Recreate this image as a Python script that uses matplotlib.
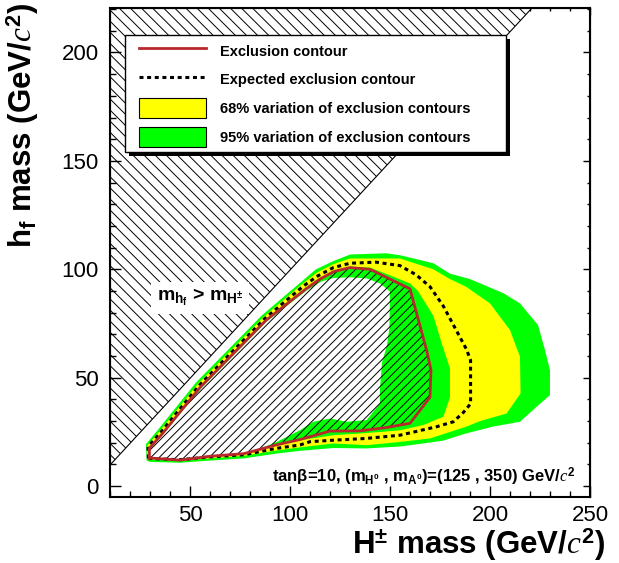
import matplotlib
matplotlib.use("Agg")
import matplotlib.pyplot as plt
from matplotlib.patches import Rectangle, Patch
from matplotlib.lines import Line2D
from matplotlib.ticker import MultipleLocator

plt.rcParams['font.family'] = ['Liberation Sans', 'DejaVu Sans']
plt.rcParams['mathtext.fontset'] = 'custom'
plt.rcParams['mathtext.rm'] = 'Liberation Sans:bold'
plt.rcParams['mathtext.bf'] = 'Liberation Sans:bold'
plt.rcParams['mathtext.sf'] = 'Liberation Sans:bold'
plt.rcParams['mathtext.it'] = 'Liberation Serif:italic'
plt.rcParams['hatch.linewidth'] = 0.7

# ---------------- data ----------------
obs_x = [29.7, 29.7, 36, 55, 88, 108, 115, 122, 130, 140, 160, 168.5, 170.5, 170, 160, 148, 135, 120, 105, 93, 77, 60, 45, 30]
obs_y = [13, 17.5, 24, 45.5, 76.5, 91, 95.5, 99, 100.8, 100, 91, 62, 53.5, 41, 29, 27, 25.5, 25.4, 21.5, 19, 15, 13.8, 12, 13]

exp_x = [29.2, 29, 35.3, 54.3, 87.3, 107, 114, 121.7, 130, 143, 155, 163, 170, 176.7, 188.3, 190.3, 190.3, 186.7, 181.7, 173.3, 155, 138, 121.7, 110, 105, 93, 77, 60, 45, 29.2]
exp_y = [12.8, 18.2, 24.7, 46.2, 77.2, 92.5, 97, 100.8, 102.8, 103.3, 101.7, 97.5, 92, 83, 63, 58, 38, 34, 29.7, 27.4, 23.5, 22, 21.2, 20.5, 19, 17.4, 14.5, 13.5, 12.2, 12.8]

# +1 sigma (outer edge of the 68% band)
p68_x = [28.8, 28.6, 34.8, 53.8, 86.8, 106.5, 113.5, 121.5, 130, 155, 171.7, 180, 188, 200, 210, 215, 215.3, 208.3, 195, 188, 180, 170, 155, 138.3, 121.7, 105, 93, 77, 60, 45]
p68_y = [12.4, 18.7, 25.3, 47, 78, 93.5, 98.5, 102.3, 105, 105, 100, 95.5, 92, 84.3, 72, 59.7, 42.8, 33.5, 30, 27.4, 25, 22, 20.4, 18.9, 19.7, 17.9, 16.4, 14, 12.8, 11.8]

# +2 sigma (outer edge of the 95% band)
p95_x = [28.3, 28, 34, 53, 86, 106, 113, 121.7, 130, 148, 155, 165, 171.7, 180, 190, 206.7, 215, 224, 227.5, 230, 230, 223.3, 215, 201.7, 188, 176.7, 165, 155, 138.3, 121.7, 105, 93, 77, 60, 45, 30]
p95_y = [11.8, 19.4, 26, 47.8, 78.8, 94.5, 100, 103.8, 106.8, 107.4, 106.5, 104.3, 102.8, 98, 95.5, 89, 84.3, 74.3, 62.8, 53.5, 42, 36.6, 29.7, 27.5, 24.3, 21, 19.5, 18.3, 17.4, 17.6, 16.3, 15, 12.8, 11.8, 10.8, 11.2]

# -1 sigma (inner edge of the 68% band)
m68_x = [29.5, 29.5, 35.8, 54.8, 87.8, 107.8, 114.8, 121.8, 130, 140, 152, 160, 164, 171.7, 176, 180, 180, 176.7, 166.7, 155, 146.7, 135, 121.7, 105, 93, 77, 60, 45]
m68_y = [12.9, 17.6, 24.2, 45.7, 76.7, 91.3, 95.8, 99.3, 101.2, 100.8, 96.5, 93.5, 90, 78.5, 65.5, 54.3, 41, 32, 28.2, 25.8, 25.1, 24.3, 23.5, 21.2, 18.8, 15, 13.8, 12]

# -2 sigma (inner edge of the 95% band)
m95_x = [30, 30, 36.5, 55.5, 88.5, 108.5, 115.5, 121.7, 130, 138.3, 145, 150, 149.7, 148.5, 146, 145, 145, 138.3, 128.3, 120, 111.7, 105, 93.3, 83.3, 77, 60, 45]
m95_y = [13.2, 17.3, 23.7, 45, 76, 90.3, 94.3, 96, 96.3, 95.8, 93.5, 89.7, 73, 65, 57, 45, 38.2, 30.5, 29.7, 31.2, 29.7, 25.8, 20.4, 16.6, 15.3, 14.1, 12.4]

x_lim = (10, 250)
y_lim = (-5, 220.5)
x_ticks = [50, 100, 150, 200, 250]
y_ticks = [0, 50, 100, 150, 200]

legend_labels = ["Exclusion contour", "Expected exclusion contour",
                 "68% variation of exclusion contours", "95% variation of exclusion contours"]

GREEN = '#00ff00'
YELLOW = '#ffff00'
RED = '#b8282c'

# ---------------- figure ----------------
fig = plt.figure(figsize=(6.19, 5.63), dpi=100)
ax = fig.add_axes([0.1777, 0.1172, 0.7754, 0.8686])
ax.set_xlim(*x_lim)
ax.set_ylim(*y_lim)

# kinematically forbidden region m_hf > m_H+
tri_x = [x_lim[0], x_lim[0], y_lim[1]]
tri_y = [x_lim[0], y_lim[1], y_lim[1]]
ax.fill(tri_x, tri_y, facecolor='white', edgecolor='black', hatch='\\\\\\', lw=0.8, zorder=1)

# bands
ax.fill(p95_x, p95_y, color=GREEN, lw=0, zorder=2)
ax.fill(p68_x, p68_y, color=YELLOW, lw=0, zorder=3)
ax.fill(m68_x, m68_y, color=GREEN, lw=0, zorder=4)
ax.fill(m95_x, m95_y, color='white', lw=0, zorder=5)

# excluded region hatch
ax.fill(obs_x, obs_y, facecolor='none', edgecolor='black', hatch='////', lw=0, zorder=6)

ax.plot(exp_x, exp_y, color='black', lw=2.2, linestyle=(0, (1.3, 1.2)), zorder=7)
ax.plot(obs_x + obs_x[:1], obs_y + obs_y[:1], color=RED, lw=2.0, zorder=8)

# text annotations
ax.text(55, 86.8, r'$\mathrm{m_{h_{f}}}$ > $\mathrm{m_{H^{\pm}}}$', fontsize=14, fontweight='bold',
        ha='center', va='center', zorder=9,
        bbox=dict(boxstyle='square,pad=0.3', fc='white', ec='none'))
ax.text(242.5, 4.3, r'tanβ=10, (m$_{\mathrm{H^{0}}}$ , m$_{\mathrm{A^{0}}}$)=(125 , 350) GeV/$c^{2}$',
        fontsize=12, fontweight='bold', ha='right', va='center', zorder=9)

# legend frame + shadow
lx0, ly0, lw_, lh_ = 0.03125, 0.7055, 0.79375, 0.2393
ax.add_patch(Rectangle((lx0 + 0.0083, ly0 - 0.0082), lw_, lh_, transform=ax.transAxes,
                       facecolor='black', edgecolor='none', zorder=10))
ax.add_patch(Rectangle((lx0, ly0), lw_, lh_, transform=ax.transAxes,
                       facecolor='white', edgecolor='black', lw=1.0, zorder=11))
handles = [Line2D([], [], color=RED, lw=2.0),
           Line2D([], [], color='black', lw=2.2, linestyle=(0, (1.3, 1.2))),
           Patch(facecolor=YELLOW, edgecolor='black', lw=0.8),
           Patch(facecolor=GREEN, edgecolor='black', lw=0.8)]
leg = ax.legend(handles, legend_labels, loc='upper left', bbox_to_anchor=(0.0604, 0.9326),
                frameon=False, borderpad=0, borderaxespad=0, handlelength=4.6, handleheight=1.7,
                handletextpad=0.95, labelspacing=0.62,
                prop={'family': 'Liberation Sans', 'weight': 'bold', 'size': 10.5})
leg.set_zorder(12)

# axes styling
for s in ax.spines.values():
    s.set_linewidth(1.5)
    s.set_zorder(20)
ax.xaxis.set_major_locator(MultipleLocator(50))
ax.xaxis.set_minor_locator(MultipleLocator(10))
ax.yaxis.set_major_locator(MultipleLocator(50))
ax.yaxis.set_minor_locator(MultipleLocator(10))
ax.set_xticks(x_ticks)
ax.set_yticks(y_ticks)
ax.tick_params(which='both', direction='in', width=1.0, labelsize=16)
ax.tick_params(which='major', length=8)
ax.tick_params(which='minor', length=4)
ax.tick_params(axis='x', pad=6)
ax.tick_params(axis='y', pad=8)

sx = ax.secondary_xaxis('top')
sx.xaxis.set_major_locator(MultipleLocator(50))
sx.xaxis.set_minor_locator(MultipleLocator(10))
sx.tick_params(which='both', direction='in', width=1.0, labeltop=False)
sx.tick_params(which='major', length=5)
sx.tick_params(which='minor', length=2.5)
sy = ax.secondary_yaxis('right')
sy.yaxis.set_major_locator(MultipleLocator(50))
sy.yaxis.set_minor_locator(MultipleLocator(10))
sy.tick_params(which='both', direction='in', width=1.0, labelright=False)
sy.tick_params(which='major', length=5)
sy.tick_params(which='minor', length=2.5)

ax.set_xlabel(r'H$^{\pm}$ mass (GeV/$c^{2}$)', fontsize=22.5, fontweight='bold', loc='right')
ax.xaxis.set_label_coords(1.033, -0.097)
ax.xaxis.label.set_va('center')
ax.set_ylabel(r'h$_{\mathrm{f}}$ mass (GeV/$c^{2}$)', fontsize=22.5, fontweight='bold', loc='top')
ax.yaxis.set_label_coords(-0.183, 1.01)
ax.yaxis.label.set_va('center')

fig.savefig('out.png', dpi=100)
